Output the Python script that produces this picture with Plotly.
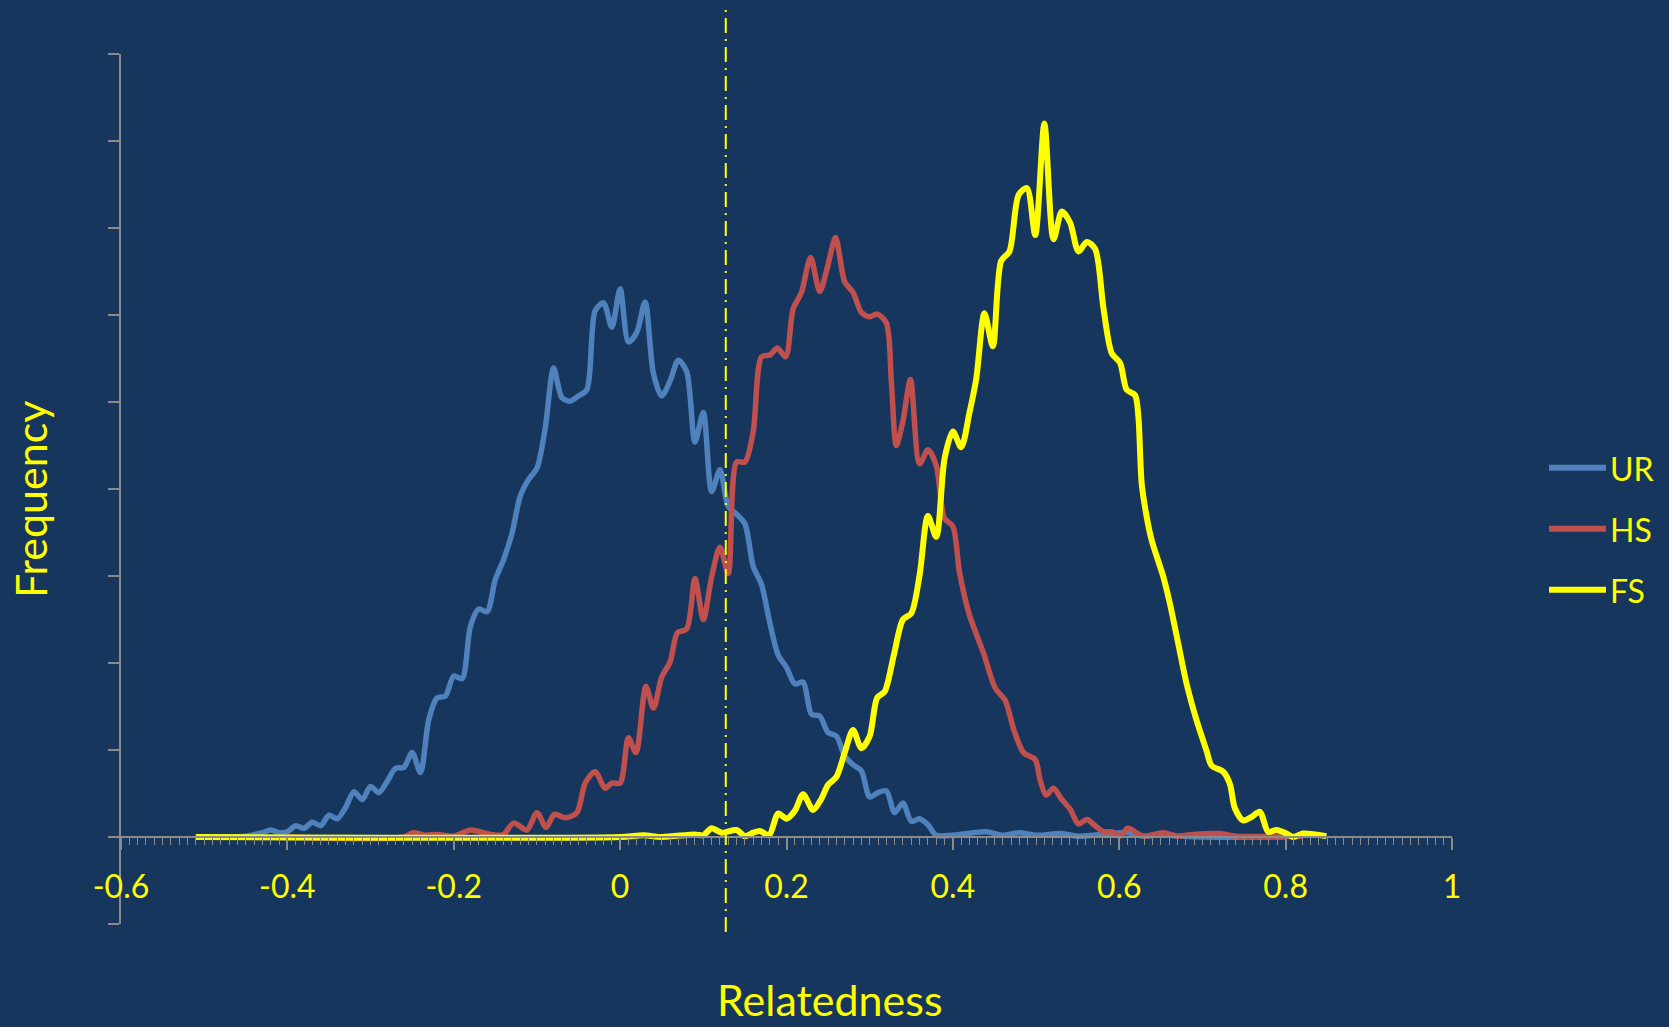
import plotly.graph_objects as go

# ---------------- data ----------------
SERIES_NAMES = ["UR", "HS", "FS"]

UR_X = [-0.51, -0.48, -0.45, -0.43, -0.42, -0.41, -0.40, -0.39, -0.38, -0.37, -0.36, -0.35, -0.34, -0.33,
        -0.32, -0.31, -0.30, -0.29, -0.28, -0.27, -0.26, -0.25, -0.24, -0.23, -0.22, -0.21, -0.20, -0.19,
        -0.18, -0.17, -0.16, -0.15, -0.14, -0.13, -0.12, -0.11, -0.10, -0.09, -0.08, -0.07, -0.06, -0.05,
        -0.04, -0.03, -0.02, -0.01, 0.00, 0.01, 0.02, 0.03, 0.04, 0.05, 0.06, 0.07, 0.08, 0.09, 0.10, 0.11,
        0.12, 0.13, 0.14, 0.15, 0.16, 0.17, 0.18, 0.19, 0.20, 0.21, 0.22, 0.23, 0.24, 0.25, 0.26, 0.27,
        0.28, 0.29, 0.30, 0.31, 0.32, 0.33, 0.34, 0.35, 0.36, 0.37, 0.38, 0.40, 0.44, 0.46, 0.48, 0.50,
        0.53, 0.55, 0.61, 0.63, 0.65, 0.67, 0.70, 0.80]
UR_Y = [0.0, 0.0, 0.01, 0.05, 0.08, 0.05, 0.06, 0.13, 0.10, 0.17, 0.13, 0.25, 0.21, 0.34,
        0.52, 0.43, 0.58, 0.51, 0.64, 0.79, 0.80, 0.97, 0.74, 1.35, 1.60, 1.62, 1.85, 1.82,
        2.42, 2.62, 2.59, 2.96, 3.19, 3.49, 3.92, 4.11, 4.24, 4.70, 5.39, 5.05, 5.01, 5.07,
        5.14, 6.05, 6.14, 5.86, 6.30, 5.69, 5.80, 6.15, 5.33, 5.07, 5.24, 5.48, 5.35, 4.54, 4.88, 3.97,
        4.22, 3.80, 3.71, 3.60, 3.11, 2.90, 2.46, 2.09, 1.95, 1.76, 1.78, 1.41, 1.39, 1.20, 1.16, 0.93,
        0.83, 0.76, 0.46, 0.51, 0.53, 0.28, 0.39, 0.18, 0.21, 0.14, 0.02, 0.02, 0.06, 0.02, 0.05, 0.02,
        0.04, 0.01, 0.05, 0.01, 0.03, 0.01, 0.0, 0.0]

HS_X = [-0.40, -0.26, -0.249, -0.235, -0.22, -0.20, -0.18, -0.165, -0.15, -0.14,
        -0.128, -0.112, -0.100, -0.089, -0.079, -0.066, -0.052, -0.042, -0.030, -0.018,
        -0.010, 0.000, 0.010, 0.019, 0.031, 0.040, 0.050, 0.060, 0.069, 0.080,
        0.090, 0.100, 0.110, 0.120, 0.130, 0.140, 0.150, 0.160, 0.170, 0.180,
        0.189, 0.199, 0.208, 0.218, 0.229, 0.240, 0.249, 0.259, 0.270, 0.280,
        0.290, 0.300, 0.309, 0.320, 0.326, 0.332, 0.340, 0.349, 0.360, 0.370,
        0.380, 0.390, 0.400, 0.408, 0.420, 0.437, 0.451, 0.463, 0.473, 0.485,
        0.499, 0.505, 0.512, 0.521, 0.531, 0.541, 0.551, 0.561, 0.571, 0.581,
        0.591, 0.601, 0.610, 0.629, 0.653, 0.669, 0.689, 0.721, 0.74, 0.82]
HS_Y = [0.0, 0.0, 0.05, 0.02, 0.03, 0.01, 0.08, 0.05, 0.02, 0.03,
        0.16, 0.08, 0.28, 0.11, 0.26, 0.22, 0.28, 0.62, 0.75, 0.56,
        0.62, 0.62, 1.14, 0.97, 1.73, 1.48, 1.84, 2.01, 2.35, 2.39,
        2.97, 2.50, 2.99, 3.33, 3.03, 4.31, 4.31, 4.66, 5.52, 5.54,
        5.62, 5.52, 6.07, 6.26, 6.66, 6.27, 6.54, 6.89, 6.38, 6.26,
        6.03, 5.98, 6.01, 5.91, 5.24, 4.50, 4.78, 5.26, 4.29, 4.45,
        4.27, 3.66, 3.57, 3.04, 2.55, 2.11, 1.71, 1.57, 1.24, 0.97,
        0.89, 0.65, 0.48, 0.56, 0.43, 0.32, 0.15, 0.20, 0.13, 0.06,
        0.06, 0.01, 0.10, 0.01, 0.05, 0.01, 0.03, 0.04, 0.01, 0.01]

FS_X = [-0.51, 0.00, 0.028, 0.05, 0.09, 0.100, 0.110, 0.122, 0.140, 0.150,
        0.160, 0.168, 0.179, 0.190, 0.200, 0.210, 0.220, 0.232, 0.242, 0.250,
        0.260, 0.270, 0.280, 0.290, 0.300, 0.309, 0.318, 0.329, 0.340, 0.350,
        0.360, 0.370, 0.380, 0.390, 0.400, 0.410, 0.420, 0.428, 0.438, 0.448,
        0.458, 0.468, 0.479, 0.489, 0.499, 0.510, 0.521, 0.531, 0.541, 0.551,
        0.561, 0.571, 0.581, 0.591, 0.601, 0.609, 0.619, 0.623, 0.627, 0.633,
        0.639, 0.653, 0.661, 0.671, 0.681, 0.693, 0.705, 0.711, 0.725, 0.733,
        0.739, 0.749, 0.759, 0.769, 0.779, 0.789, 0.801, 0.809, 0.821, 0.849]
FS_Y = [0.0, 0.0, 0.02, 0.0, 0.03, 0.02, 0.10, 0.05, 0.08, 0.01,
        0.05, 0.07, 0.02, 0.27, 0.21, 0.30, 0.49, 0.31, 0.44, 0.60,
        0.69, 0.97, 1.23, 1.02, 1.16, 1.60, 1.67, 2.09, 2.50, 2.57,
        3.01, 3.69, 3.45, 4.35, 4.66, 4.48, 4.88, 5.26, 6.02, 5.64,
        6.62, 6.73, 7.38, 7.46, 6.92, 8.20, 6.87, 7.19, 7.06, 6.73,
        6.84, 6.76, 6.08, 5.56, 5.45, 5.14, 5.08, 4.83, 4.06, 3.68,
        3.41, 2.99, 2.68, 2.22, 1.76, 1.34, 0.99, 0.82, 0.75, 0.61,
        0.33, 0.19, 0.23, 0.29, 0.06, 0.08, 0.04, 0.0, 0.04, 0.01]

X_TICK_VALS = [-0.6, -0.4, -0.2, 0, 0.2, 0.4, 0.6, 0.8, 1.0]
X_TICK_TEXT = ["-0.6", "-0.4", "-0.2", "0", "0.2", "0.4", "0.6", "0.8", "1"]
THRESHOLD = 0.127
X_RANGE = [-0.6, 1.0]
Y_RANGE = [-1, 9]

# ---------------- style ----------------
W, H = 1669, 1027
ML, MR, MT, MB = 121, 217, 54, 103
PW, PH = W - ML - MR, H - MT - MB
BG = "#17365D"
AXIS = "#8A8A8A"
YELLOW = "#FFFF00"
COLORS = ["#4F81BD", "#C0504D", "#FFFF00"]
WIDTHS = [5.5, 5.5, 6]
FONT = "Lato, 'Open Sans', sans-serif"


def px_x(px):
    return (px - ML) / PW


def px_y(py):
    return (H - MB - py) / PH


fig = go.Figure()
series = [(UR_X, UR_Y), (HS_X, HS_Y), (FS_X, FS_Y)]
for name, (xs, ys), c, w in zip(SERIES_NAMES, series, COLORS, WIDTHS):
    fig.add_trace(go.Scatter(x=xs, y=ys, name=name, mode="lines",
                             line=dict(color=c, width=w, shape="spline", smoothing=0.8),
                             showlegend=False, hoverinfo="skip"))

zero_pos = (0 - Y_RANGE[0]) / (Y_RANGE[1] - Y_RANGE[0])
thr_paper = (THRESHOLD - X_RANGE[0]) / (X_RANGE[1] - X_RANGE[0])

shapes = [dict(type="line", xref="paper", yref="paper", x0=thr_paper, x1=thr_paper,
               y0=px_y(932), y1=px_y(9),
               line=dict(color=YELLOW, width=2, dash="15px,6px,2px,6px"))]
annotations = []
legend_rows = [467.7, 528.7, 589.7]
for name, c, row in zip(SERIES_NAMES, COLORS, legend_rows):
    shapes.append(dict(type="line", xref="paper", yref="paper", x0=px_x(1549), x1=px_x(1606),
                       y0=px_y(row), y1=px_y(row), line=dict(color=c, width=6)))
    annotations.append(dict(xref="paper", yref="paper", x=px_x(1608), y=px_y(row + 1),
                            xanchor="left", yanchor="middle", showarrow=False, text=name,
                            font=dict(family=FONT, size=32, color=YELLOW)))

annotations.append(dict(xref="paper", yref="paper", x=px_x(830), y=px_y(1026),
                        xanchor="center", yanchor="bottom", showarrow=False, text="Relatedness",
                        borderpad=0, font=dict(family=FONT, size=43, color=YELLOW)))
annotations.append(dict(xref="paper", yref="paper", x=px_x(30), y=px_y(500),
                        xanchor="center", yanchor="middle", showarrow=False, text="Frequency",
                        textangle=-90, font=dict(family=FONT, size=43, color=YELLOW)))

fig.update_layout(
    width=W, height=H,
    margin=dict(l=ML, r=MR, t=MT, b=MB, autoexpand=False),
    paper_bgcolor=BG, plot_bgcolor=BG,
    showlegend=False,
    shapes=shapes, annotations=annotations,
    xaxis=dict(range=X_RANGE, anchor="free", position=zero_pos,
               showline=True, linecolor=AXIS, linewidth=2,
               ticks="outside", ticklen=12, tickwidth=1.5, tickcolor=AXIS,
               tickmode="array", tickvals=X_TICK_VALS, ticktext=X_TICK_TEXT,
               tickfont=dict(family=FONT, size=32, color=YELLOW),
               ticklabelstandoff=10,
               showgrid=False, zeroline=False,
               minor=dict(tickmode="linear", tick0=-0.6, dtick=0.01, ticks="outside",
                          ticklen=7, tickwidth=1, tickcolor=AXIS, showgrid=False)),
    yaxis=dict(range=Y_RANGE, showline=True, linecolor=AXIS, linewidth=2,
               ticks="outside", ticklen=11, tickwidth=2, tickcolor=AXIS,
               tickmode="linear", tick0=0, dtick=1, showticklabels=False,
               showgrid=False, zeroline=False),
)

fig.write_html("out.html", config={"displayModeBar": False},
               post_script="document.body.style.margin='0';document.body.style.overflow='hidden';")
